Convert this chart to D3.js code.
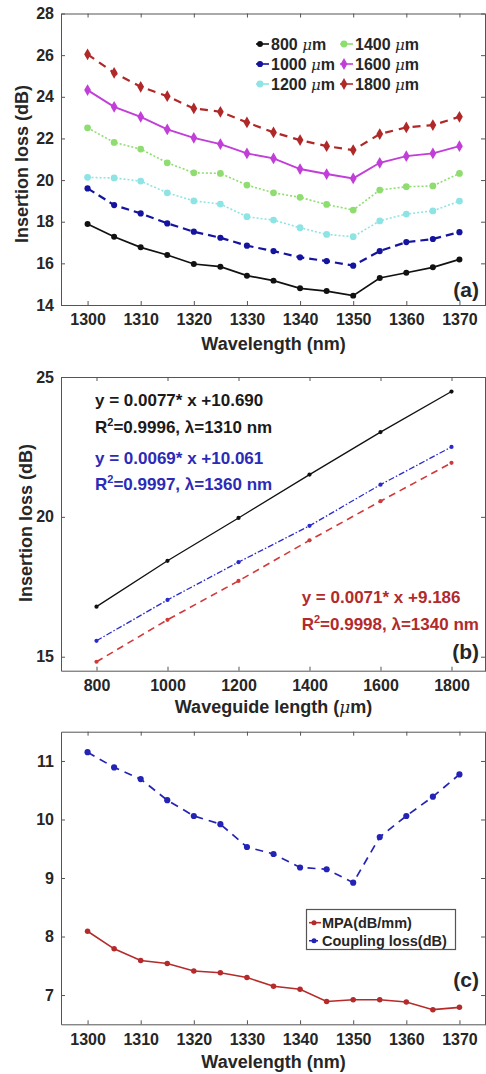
<!DOCTYPE html>
<html>
<head>
<meta charset="utf-8">
<script src="https://cdn.jsdelivr.net/npm/d3@7/dist/d3.min.js"></script>
<style>
body { margin: 0; background: #fff; }
text { font-family: "Liberation Sans", Arial, sans-serif; font-weight: bold; fill: #262626; }
</style>
</head>
<body>
<div id="chart"></div>
<script>
// ---- data ----
const wavelengths = [1300, 1305, 1310, 1315, 1320, 1325, 1330, 1335, 1340, 1345, 1350, 1355, 1360, 1365, 1370];

// (a) insertion loss (dB) per waveguide length
const il800  = [17.89, 17.28, 16.77, 16.40, 15.97, 15.84, 15.41, 15.17, 14.80, 14.67, 14.45, 15.30, 15.55, 15.81, 16.19];
const il1000 = [19.60, 18.80, 18.40, 17.92, 17.52, 17.23, 16.85, 16.59, 16.29, 16.11, 15.89, 16.59, 17.02, 17.17, 17.50];
const il1200 = [20.13, 20.10, 19.95, 19.39, 19.00, 18.85, 18.24, 18.08, 17.71, 17.39, 17.28, 18.04, 18.37, 18.52, 18.99];
const il1400 = [22.51, 21.81, 21.49, 20.83, 20.35, 20.32, 19.76, 19.39, 19.17, 18.83, 18.56, 19.52, 19.68, 19.72, 20.32];
const il1600 = [24.32, 23.52, 23.04, 22.43, 22.03, 21.73, 21.28, 21.04, 20.53, 20.29, 20.08, 20.83, 21.15, 21.28, 21.63];
const il1800 = [26.04, 25.15, 24.48, 24.03, 23.44, 23.28, 22.77, 22.29, 21.92, 21.63, 21.44, 22.21, 22.53, 22.64, 23.04];
const lengthLabels = ["800", "1000", "1200", "1400", "1600", "1800"];

// (b) insertion loss vs waveguide length at three wavelengths
const lengths = [800, 1000, 1200, 1400, 1600, 1800];
const il1310 = [16.79, 18.43, 19.96, 21.51, 23.03, 24.48];
const il1360 = [15.57, 17.03, 18.38, 19.68, 21.15, 22.50];
const il1340 = [14.82, 16.32, 17.71, 19.16, 20.56, 21.93];
const fitEq  = ["y = 0.0077* x +10.690", "y = 0.0069* x +10.061", "y = 0.0071* x +9.186"];
const fitR2  = ["=0.9996, λ=1310 nm", "=0.9997, λ=1360 nm", "=0.9998, λ=1340 nm"];

// (c) MPA and coupling loss
const mpa      = [8.09, 7.79, 7.59, 7.54, 7.41, 7.38, 7.30, 7.15, 7.10, 6.89, 6.92, 6.92, 6.88, 6.75, 6.79];
const coupling = [11.15, 10.89, 10.69, 10.33, 10.06, 9.92, 9.53, 9.41, 9.18, 9.15, 8.92, 9.70, 10.06, 10.39, 10.77];

// ticks
const wlTicks = [1300, 1310, 1320, 1330, 1340, 1350, 1360, 1370];
const ilTicksA = [14, 16, 18, 20, 22, 24, 26, 28];
const lenTicks = [800, 1000, 1200, 1400, 1600, 1800];
const ilTicksB = [15, 20, 25];
const cTicks = [7, 8, 9, 10, 11];

const width = 486, height = 1074;
const left = 61, right = 486;

const svg = d3.select("#chart")
  .append("svg")
  .attr("width", width)
  .attr("height", height);

// box with inward ticks on all four sides
function frame(x, y, xt, yt) {
  const [y0, y1] = y.range();
  const g = svg.append("g");
  g.append("g").attr("transform", `translate(0,${y0})`)
    .call(d3.axisBottom(x).tickValues(xt).tickSize(-4).tickSizeOuter(0).tickPadding(9).tickFormat(d3.format("d")));
  g.append("g").attr("transform", `translate(0,${y1})`)
    .call(d3.axisTop(x).tickValues(xt).tickSize(-4).tickSizeOuter(0).tickFormat(""));
  g.append("g").attr("transform", `translate(${left},0)`)
    .call(d3.axisLeft(y).tickValues(yt).tickSize(-4).tickSizeOuter(0).tickPadding(7).tickFormat(d3.format("d")));
  g.append("g").attr("transform", `translate(${right - 1},0)`)
    .call(d3.axisRight(y).tickValues(yt).tickSize(-4).tickSizeOuter(0).tickFormat(""));
  g.selectAll("path, line").attr("stroke", "#555").attr("stroke-width", 1);
  g.selectAll("g").attr("font-size", 16);
  return g;
}

function series(x, xs, y, vals, s) {
  svg.append("path")
    .datum(vals)
    .attr("fill", "none")
    .attr("stroke", s.color)
    .attr("stroke-width", s.width)
    .attr("stroke-dasharray", s.dash)
    .attr("d", d3.line().x((d, i) => x(xs[i])).y(d => y(d)));
  const sym = d3.symbol().type(s.diamond ? d3.symbolDiamond : d3.symbolCircle).size(s.size);
  svg.append("g").selectAll("path")
    .data(vals)
    .join("path")
    .attr("d", sym)
    .attr("transform", (d, i) => `translate(${x(xs[i])},${y(d)})`)
    .attr("fill", s.color);
}

function yTitle(txt, xPos, yPos) {
  svg.append("text")
    .attr("transform", `translate(${xPos},${yPos}) rotate(-90)`)
    .attr("text-anchor", "middle")
    .attr("font-size", 18)
    .text(txt);
}
function xTitle(sel, yPos) {
  return svg.append("text")
    .attr("x", (left + right) / 2)
    .attr("y", yPos)
    .attr("text-anchor", "middle")
    .attr("font-size", 18);
}
function panelLabel(txt, yPos) {
  svg.append("text").attr("x", 479).attr("y", yPos)
    .attr("text-anchor", "end").attr("font-size", 21).text(txt);
}

// ---------- panel (a) ----------
const xA = d3.scaleLinear().domain([1295, 1375]).range([left, right]);
const yA = d3.scaleLinear().domain([14, 28]).range([305, 13.5]);

const styleA = [
  { color: "#111111", width: 1.7, dash: null, size: 28 },
  { color: "#14149e", width: 2.2, dash: "8,5", size: 30 },
  { color: "#8ee4e4", width: 1.6, dash: "2,2", size: 36 },
  { color: "#8fdd70", width: 1.6, dash: "2,2", size: 36 },
  { color: "#c23ed8", width: 1.9, dash: null, size: 40, diamond: true },
  { color: "#b02828", width: 2.2, dash: "8,6", size: 40, diamond: true }
];
const dataA = [il800, il1000, il1200, il1400, il1600, il1800];

frame(xA, yA, wlTicks, ilTicksA);
dataA.forEach((vals, k) => series(xA, wavelengths, yA, vals, styleA[k]));

// legend (a)
lengthLabels.forEach((lab, k) => {
  const col = Math.floor(k / 3), row = k % 3;
  const lx = col === 0 ? 256 : 340;
  const ly = 44 + row * 20;
  const s = styleA[k];
  svg.append("line").attr("x1", lx).attr("x2", lx + 13).attr("y1", ly).attr("y2", ly)
    .attr("stroke", s.color).attr("stroke-width", 1.6);
  svg.append("path")
    .attr("d", d3.symbol().type(s.diamond ? d3.symbolDiamond : d3.symbolCircle).size(s.size)())
    .attr("transform", `translate(${lx + 4},${ly})`).attr("fill", s.color);
  const t = svg.append("text").attr("x", lx + 15).attr("y", ly + 6).attr("font-size", 16);
  t.append("tspan").text(lab + " ");
  t.append("tspan").attr("font-style", "italic").attr("font-weight", "normal")
    .attr("font-family", "DejaVu Serif").attr("font-size", 15).text("μ");
  t.append("tspan").text("m");
});

yTitle("Insertion loss (dB)", 28, 164);
xTitle(null, 349.5).text("Wavelength (nm)");
panelLabel("(a)", 297);

// ---------- panel (b) ----------
const xB = d3.scaleLinear().domain([700, 1900]).range([left, 487]);
const yB = d3.scaleLinear().domain([14.5, 25]).range([670.7, 377]);

frame(xB, yB, lenTicks, ilTicksB);

const styleB = [
  { color: "#111111", width: 1.3, dash: null, size: 14 },
  { color: "#2a2acc", width: 1.3, dash: "6,2,1.5,2", size: 14 },
  { color: "#d03a3a", width: 1.6, dash: "7,5", size: 14 }
];
const dataB = [il1310, il1360, il1340];
dataB.forEach((vals, k) => series(xB, lengths, yB, vals, styleB[k]));

const annColors = ["#1a1a1a", "#2b2bb8", "#b22a2a"];
const annPos = [[95, 406, 433], [95, 463.5, 490], [301.7, 603, 630]];
fitEq.forEach((eq, k) => {
  const [ax, b1, b2] = annPos[k];
  svg.append("text").attr("x", ax).attr("y", b1).attr("font-size", 17)
    .style("fill", annColors[k]).text(eq);
  const t = svg.append("text").attr("x", ax).attr("y", b2).attr("font-size", 17)
    .style("fill", annColors[k]);
  t.append("tspan").text("R");
  t.append("tspan").attr("dy", -7).attr("font-size", 11).text("2");
  t.append("tspan").attr("dy", 7).text(fitR2[k]);
});

yTitle("Insertion loss (dB)", 32, 523);
const tb = xTitle(null, 713);
tb.append("tspan").text("Waveguide length (");
tb.append("tspan").attr("font-style", "italic").attr("font-weight", "normal")
  .attr("font-family", "DejaVu Serif").attr("font-size", 17).text("μ");
tb.append("tspan").text("m)");
panelLabel("(b)", 659);

// ---------- panel (c) ----------
const xC = d3.scaleLinear().domain([1295, 1375]).range([left, right]);
const yC = d3.scaleLinear().domain([6.5, 11.5]).range([1024.3, 731.7]);

frame(xC, yC, wlTicks, cTicks);

const styleC = [
  { color: "#b52a2a", width: 1.6, dash: null, size: 24 },
  { color: "#2323b5", width: 1.7, dash: "8,6", size: 30 }
];
series(xC, wavelengths, yC, mpa, styleC[0]);
series(xC, wavelengths, yC, coupling, styleC[1]);

// legend (c)
const legC = ["MPA(dB/mm)", "Coupling loss(dB)"];
svg.append("rect").attr("x", 306.5).attr("y", 909.5).attr("width", 149).attr("height", 40)
  .attr("fill", "#fff").attr("stroke", "#555").attr("stroke-width", 1.2);
legC.forEach((lab, k) => {
  const ly = 922.7 + k * 18;
  svg.append("line").attr("x1", 309).attr("x2", 321).attr("y1", ly).attr("y2", ly)
    .attr("stroke", styleC[k].color).attr("stroke-width", 1.6)
    .attr("stroke-dasharray", k === 1 ? "3,3" : null);
  svg.append("circle").attr("cx", 314).attr("cy", ly).attr("r", 2.5).attr("fill", styleC[k].color);
  svg.append("text").attr("x", 322).attr("y", ly + 5.5).attr("font-size", 14.5).text(lab);
});

xTitle(null, 1068).text("Wavelength (nm)");
panelLabel("(c)", 987);
</script>
</body>
</html>
